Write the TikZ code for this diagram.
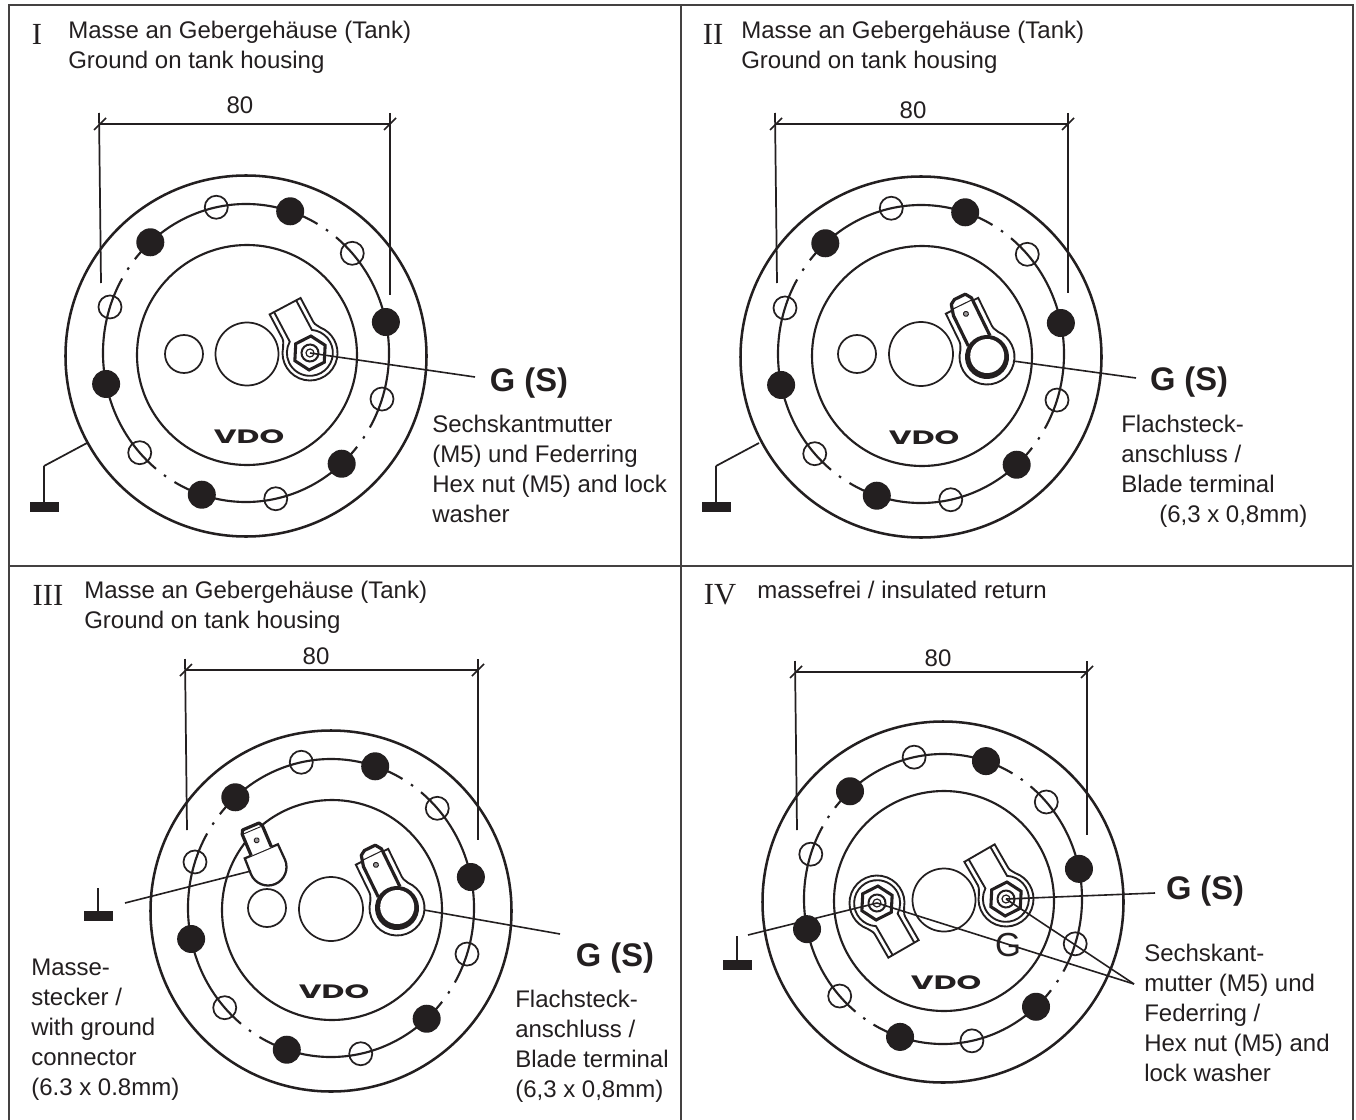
\documentclass[tikz,border=0pt]{standalone}
\usepackage{fontspec}
\setmainfont{Liberation Sans}
\newfontfamily\numfont{Liberation Serif}
\newfontfamily\logofont{Poppins}
\definecolor{ink}{HTML}{231F20}
\tikzset{
  x=0.75pt,y=0.75pt,
  frame/.style={draw=ink!85,line width=1.5pt},
  thickc/.style={draw=ink,line width=1.9pt},
  mainc/.style={draw=ink,line width=1.6pt},
  holew/.style={draw=ink,line width=1.3pt},
  dimline/.style={draw=ink,line width=0.9pt},
  extline/.style={draw=ink,line width=1.3pt},
  leader/.style={draw=ink,line width=1.2pt},
  thin2/.style={draw=ink,line width=1.4pt},
  body/.style={inner sep=0pt,anchor=north west,align=left,text=ink,font=\fontsize{18}{22.5}\selectfont},
  numeral/.style={inner sep=0pt,text=ink,font=\numfont\fontsize{23}{26}\selectfont},
  gs/.style={inner sep=0pt,text=ink,font=\bfseries\fontsize{24.5}{28}\selectfont},
  dimlabel/.style={inner sep=0pt,text=ink,font=\fontsize{18}{22}\selectfont},
}
% flange: centre x, y, bolt x radius, name (bolt y radius is 6 larger)
\newcommand{\flange}[4]{%
  \coordinate (#4) at (#1,#2);
  \draw[thickc] (#1,#2-3) circle (180.5);
  \draw[mainc] (#1+1,#2-2) circle (110);
  \pgfmathsetmacro{\ry}{#3+6}
  \foreach \a/\b in {60/141,150/231,240/321,330/411}{
    \draw[mainc] (#1,#2) ++({#3*cos(\a)},{\ry*sin(\a)}) arc[start angle=\a,end angle=\b,x radius=#3,y radius=\ry];
  }
  \foreach \a in {55.5,145.5,235.5,325.5}{
    \draw[mainc] (#1,#2) ++({#3*cos(\a-0.5)},{\ry*sin(\a-0.5)}) arc[start angle=\a-0.5,end angle=\a+0.5,x radius=#3,y radius=\ry];
  }
  \foreach \k in {0,1,...,5}{
    \fill[ink] (#1,#2) ++({#3*cos(12+60*\k)},{\ry*sin(12+60*\k)}) circle (14);
    \draw[holew] (#1,#2) ++({#3*cos(42+60*\k)},{\ry*sin(42+60*\k)}) circle (11.5);
  }
  \node[inner sep=0pt,text=ink] (#4logo) at (#1+3,#2-84)
    {\logofont\bfseries\fontsize{14.5}{16}\selectfont\scalebox{1.62}[1]{VDO}};
}
% ring outline in local frame (tongue along +y)
\newcommand{\ringout}[3]{%
  \draw[thin2,fill=white] (#1,#2) -- (-#1,#2) -- (-#1,26) .. controls (-#1,22) and (-20.5,20) ..
    (140:#3) arc[start angle=140,end angle=400,radius=#3]
    .. controls (20.5,20) and (#1,22) .. (#1,26) -- cycle;
}
% ring terminal with hex nut: x, y, rotation, name
\newcommand{\ringterm}[4]{%
  \coordinate (#4) at (#1,#2);
  \begin{scope}[shift={(#1,#2)},rotate=#3]
    \ringout{17.5}{53}{27.5}
    \draw[thin2] (12.5,53) -- (12.5,19.5) arc[start angle=57,end angle=-237,radius=23] -- (-12.5,53);
  \end{scope}
  \begin{scope}[shift={(#1,#2)},rotate=-3]
    \draw[draw=ink,line width=2.3pt,fill=white,line join=miter] (90:17) -- (150:17) -- (210:17) -- (270:17) -- (330:17) -- (30:17) -- cycle;
    \draw[draw=ink,line width=1.5pt] (0,0) circle (8.5);
    \draw[draw=ink,line width=0.9pt] (0,0) circle (4);
  \end{scope}
}
% blade terminal: x, y, rotation, name
\newcommand{\bladeterm}[4]{%
  \coordinate (#4) at (#1,#2);
  \begin{scope}[shift={(#1,#2)},rotate=#3]
    \ringout{18}{57}{27.5}
    \draw[draw=ink,line width=2.4pt,fill=white,line join=round] (-12,18) -- (-12,52) -- (-9,63) -- (-4,66) -- (8,66) -- (12,60) -- (12,18);
    \draw[draw=ink,line width=0.8pt] (-11,58) -- (11,58);
    \draw[draw=ink,line width=0.7pt,fill=ink!45] (0,48) circle (2.5);
    \fill[ink] (0,0) circle (22);
    \fill[white] (0.6,0.8) circle (17);
  \end{scope}
}
% ground connector: x, y, rotation, name
\newcommand{\gndterm}[4]{%
  \coordinate (#4) at (#1,#2);
  \begin{scope}[shift={(#1,#2)},rotate=#3]
    \draw[draw=ink,line width=1.7pt,fill=white] (-18,17) -- (18,17) -- (18.5,0) arc[start angle=0,end angle=-180,radius=18.5] -- cycle;
    \draw[draw=ink,line width=2.4pt,fill=white,line join=round] (-11,17) -- (-11,40) -- (-9,44) -- (9,44) -- (11,40) -- (11,17);
    \draw[draw=ink,line width=0.7pt] (-9,40) -- (9,40);
    \draw[draw=ink,line width=0.7pt,fill=ink!45] (0,29) circle (2.5);
  \end{scope}
}
% dimension: left x, right x, y, left end, right end, label x, label y, name
\newcommand{\dimension}[8]{%
  \coordinate (#8l) at (#1,-#3);
  \coordinate (#8r) at (#2,-#3);
  \draw[dimline] (#8l) -- (#8r);
  \draw[extline] (#1-1,-#3+11) -- (#1+1,-#4);
  \draw[extline] (#2,-#3+11) -- (#2,-#5);
  \draw[extline] (#1-6,-#3-6) -- (#1+6,-#3+6);
  \draw[extline] (#2-6,-#3-6) -- (#2+6,-#3+6);
  \node[dimlabel] (#8t) at (#6,-#7) {80};
}
% ground symbol: stem x, stem top y, bar top y, name
\newcommand{\gndsym}[4]{%
  \coordinate (#4) at (#1,-#2);
  \fill[ink] (#1-14.5,-#3) rectangle (#1+14.5,-#3-9.5);
  \draw[extline] (#4) -- (#1,-#3);
}
\begin{document}
\begin{tikzpicture}
\useasboundingbox (0,0) rectangle (1356,-1120);
\fill[white] (0,0) rectangle (1356,-1120);
% frames (open at the page's lower edge)
\draw[frame] (8.5,-1120) -- (8.5,-5.5) -- (1353,-5.5) -- (1353,-1120);
\draw[frame] (681,-5.5) -- (681,-1120);
\draw[frame] (8.5,-565.5) -- (1353,-565.5);

%%% Panel I
\flange{246}{-353}{143}{fa}
\draw[holew] (184,-354) circle (19);
\draw[holew] (247,-354) circle (31.5);
\ringterm{310}{-353}{28}{nuta}
\node[gs] (gsa) at (529,-383) {G (S)};
\coordinate (enda) at (475,-377);
\draw[leader] (nuta) -- (enda);
\dimension{100}{390}{124}{283}{295}{240}{105}{da}
\gndsym{44}{466}{502}{ga}
\coordinate (oa) at (87,-443);
\draw[extline] (oa) -- (ga);
\node[numeral] (na) at (37,-34) {I};
\node[body] (ta) at (68,-21) {Masse an Gebergehäuse (Tank)\\Ground on tank housing};
\node[body] (da1) at (432,-415) {Sechskantmutter\\(M5) und Federring\\Hex nut (M5) and lock\\washer};

%%% Panel II
\flange{921}{-354}{143}{fb}
\draw[holew] (857,-354) circle (19);
\draw[holew] (921,-354) circle (32);
\bladeterm{987}{-357}{26}{nutb}
\coordinate (startb) at (1013,-361);
\node[gs] (gsb) at (1189,-382) {G (S)};
\coordinate (endb) at (1136,-378);
\draw[leader] (startb) -- (endb);
\dimension{776}{1068}{124}{283}{293}{913}{110}{db}
\gndsym{716}{466}{502}{gb}
\coordinate (ob) at (759,-443);
\draw[extline] (ob) -- (gb);
\node[numeral] (nb) at (713,-34) {II};
\node[body] (tb) at (741,-21) {Masse an Gebergehäuse (Tank)\\Ground on tank housing};
\node[body] (db1) at (1121,-415) {Flachsteck-\\anschluss /\\Blade terminal};
\node[body] (db2) at (1159,-505) {(6,3 x 0,8mm)};

%%% Panel III
\flange{331}{-908}{143}{fc}
\draw[holew] (267,-908) circle (19);
\draw[holew] (331,-909) circle (32);
\gndterm{268}{-867}{23}{plugc}
\bladeterm{397}{-908}{26}{nutc}
\coordinate (startc) at (424,-910);
\node[gs] (gsc) at (615,-958) {G (S)};
\coordinate (endc) at (560,-934);
\draw[leader] (startc) -- (endc);
\dimension{186}{478}{670}{830}{840}{316}{656}{dc}
\gndsym{98}{888}{911}{gc}
\coordinate (startg) at (125,-903);
\coordinate (endg) at (251,-871);
\draw[leader] (startg) -- (endg);
\node[numeral] (nc) at (48,-595) {III};
\node[body] (tc) at (84,-581) {Masse an Gebergehäuse (Tank)\\Ground on tank housing};
\node[body] (dc1) at (31,-959) {Masse-\\stecker /\\with ground\\connector\\(6.3 x 0.8mm)};
\node[body] (dc2) at (515,-990) {Flachsteck-\\anschluss /\\Blade terminal\\(6,3 x 0,8mm)};

%%% Panel IV
\flange{943}{-899}{139}{fd}
\draw[holew] (944,-900) circle (31.5);
\ringterm{1006}{-899}{30}{nutd}
\ringterm{877}{-903}{210}{nute}
\node[inner sep=0pt,text=ink,font=\fontsize{25}{28}\selectfont] (gd) at (1008,-945) {G};
\node[gs] (gsd) at (1205,-891) {G (S)};
\coordinate (endd) at (1155,-893);
\coordinate (endm) at (1134,-984);
\coordinate (starte) at (748,-935);
\draw[leader] (nutd) -- (endd);
\draw[leader] (nutd) -- (endm);
\draw[leader] (nute) -- (endm);
\draw[leader] (starte) -- (nute);
\dimension{796}{1087}{672}{830}{835}{938}{658}{dd}
\gndsym{737}{936}{960}{ge}
\node[numeral] (nd) at (720,-595) {IV};
\node[body] (td) at (757,-581) {massefrei / insulated return};
\node[body] (dd1) at (1144,-944) {Sechskant-\\mutter (M5) und\\Federring /\\Hex nut (M5) and\\lock washer};
\end{tikzpicture}
\end{document}
